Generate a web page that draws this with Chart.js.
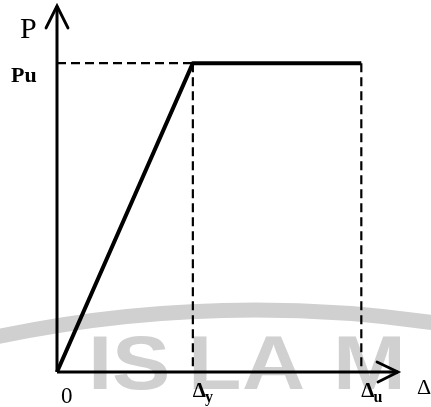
<!DOCTYPE html>
<html>
<head>
<meta charset="utf-8">
<script src="https://cdn.jsdelivr.net/npm/chart.js@4/dist/chart.umd.min.js"></script>
<style>
  html, body { margin: 0; padding: 0; background: #fff; }
  #wrap { width: 431px; height: 407px; }
</style>
</head>
<body>
<div id="wrap"><canvas id="grafico"></canvas></div>
<script>
// idealised elasto-plastic load / displacement curve
const deltaY = 1;
const deltaU = 2.24;
const pU = 1;
const xMax = 2.51;
const yMax = 1.185;

const curvaX = [0, deltaY, deltaU];
const curvaY = [0, pU, pU];

const ticksX = [0, deltaY, deltaU];
const ticksXTexto = ['0', 'Δ', 'Δ'];
const ticksXSub = ['', 'y', 'u'];
const ticksY = [pU];
const ticksYTexto = ['Pu'];
const tituloX = 'Δ';
const tituloY = 'P';
const marcaDagua = ['I', 'S', 'L', 'A', 'M'];

function pontos(xs, ys) {
    return xs.map((x, i) => ({ x, y: ys[i] }));
}

function linha(data, largura, tracejado) {
    return {
        data,
        showLine: true,
        borderColor: '#000',
        borderWidth: largura,
        borderDash: tracejado || [],
        borderJoinStyle: 'round',
        borderCapStyle: 'butt',
        pointRadius: 0,
        clip: false
    };
}

const datasets = [
    // axes
    linha(pontos([0, 0], [0, yMax]), 3),
    linha(pontos([0, xMax], [0, 0]), 3),
    // dashed guides
    linha(pontos([0, deltaY], [pU, pU]), 2.2, [9, 5]),
    linha(pontos([deltaY, deltaY], [pU, 0]), 2.2, [9, 5]),
    linha(pontos([deltaU, deltaU], [pU, 0]), 2.2, [9, 5]),
    // load curve
    linha(pontos(curvaX, curvaY), 4)
];

// faint stamp behind the drawing
const fundo = {
    id: 'fundo',
    beforeDatasetsDraw(chart) {
        const c = chart.ctx;
        c.save();
        c.strokeStyle = '#d0d0d0';
        c.lineWidth = 15;
        c.beginPath();
        c.arc(255, 1560, 1250, Math.PI * 1.4, Math.PI * 1.6);
        c.stroke();
        c.fillStyle = '#d0d0d0';
        c.font = 'bold 76px "Liberation Sans"';
        c.textBaseline = 'alphabetic';
        const posX = [88, 112, 188, 242, 333];
        marcaDagua.forEach((l, i) => {
            c.save();
            c.translate(posX[i], 389);
            c.scale(1.15, 1);
            c.fillText(l, 0, 0);
            c.restore();
        });
        c.restore();
    }
};

// arrow heads and axis labels
const rotulos = {
    id: 'rotulos',
    afterDatasetsDraw(chart) {
        const c = chart.ctx;
        const sx = chart.scales.x;
        const sy = chart.scales.y;
        const x0 = sx.getPixelForValue(0);
        const y0 = sy.getPixelForValue(0);
        const xFim = sx.getPixelForValue(xMax);
        const yFim = sy.getPixelForValue(yMax);

        c.save();
        c.strokeStyle = '#000';
        c.lineWidth = 2.8;
        c.lineCap = 'round';
        c.beginPath();
        c.moveTo(x0 - 11, yFim + 22);
        c.lineTo(x0, yFim);
        c.lineTo(x0 + 11, yFim + 22);
        c.moveTo(xFim - 21, y0 - 10);
        c.lineTo(xFim, y0);
        c.lineTo(xFim - 20, y0 + 10);
        c.stroke();

        c.fillStyle = '#000';
        c.textBaseline = 'alphabetic';
        ticksX.forEach((v, i) => {
            const px = sx.getPixelForValue(v);
            if (ticksXSub[i]) {
                c.font = 'bold 21px "Liberation Serif"';
                c.fillText(ticksXTexto[i], px, y0 + 25);
                const w = c.measureText(ticksXTexto[i]).width;
                c.font = 'bold 16px "Liberation Serif"';
                c.fillText(ticksXSub[i], px + w - 1, y0 + 30);
            } else {
                c.font = '23px "Liberation Serif"';
                c.fillText(ticksXTexto[i], px + 4, y0 + 31);
            }
        });

        c.font = 'bold 22px "Liberation Serif"';
        c.textAlign = 'left';
        ticksY.forEach((v, i) => {
            c.fillText(ticksYTexto[i], 11, sy.getPixelForValue(v) + 19);
        });

        c.font = '30px "Liberation Serif"';
        c.fillText(tituloY, 20, 38);
        c.font = '22px "Liberation Serif"';
        c.fillText(tituloX, 417, y0 + 22);
        c.restore();
    }
};

new Chart(document.getElementById('grafico').getContext('2d'), {
    type: 'scatter',
    data: { datasets },
    options: {
        responsive: true,
        maintainAspectRatio: false,
        animation: false,
        layout: { padding: { left: 57, right: 33, top: 6, bottom: 35 } },
        plugins: { legend: { display: false }, tooltip: { enabled: false } },
        scales: {
            x: { type: 'linear', min: 0, max: xMax, display: false },
            y: { type: 'linear', min: 0, max: yMax, display: false }
        }
    },
    plugins: [fundo, rotulos]
});
</script>
</body>
</html>
